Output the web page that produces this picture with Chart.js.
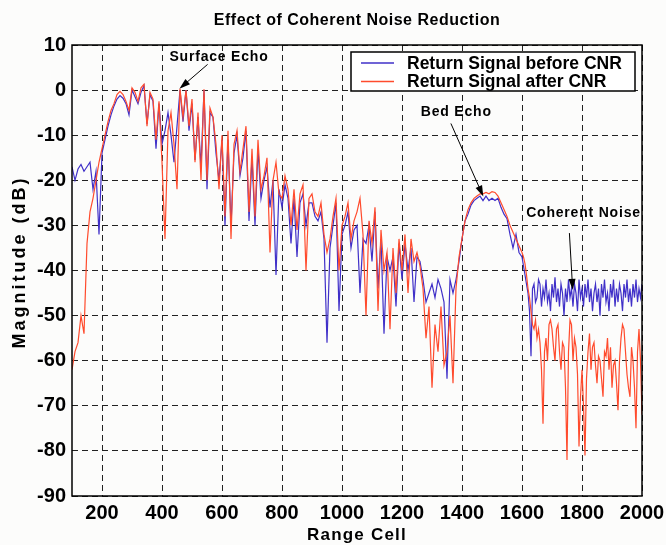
<!DOCTYPE html>
<html>
<head>
<meta charset="utf-8">
<script src="https://cdn.jsdelivr.net/npm/chart.js@4.4.1/dist/chart.umd.min.js"></script>
<style>
  html, body { margin: 0; padding: 0; background: #fcfcfb; }
  canvas { display: block; }
</style>
</head>
<body>
<canvas id="cnr-chart" width="666" height="545"></canvas>
<script>
// range cells: every 10 cells up to 1590, every 5 cells in the noisy tail
var rangeCells = [];
for (var c = 100; c < 1600; c += 10) rangeCells.push(c);
for (c = 1600; c <= 2000; c += 5) rangeCells.push(c);

// Magnitude (dB) before coherent noise reduction
var beforeCNR = [
  -17, -20, -17.5, -16.5, -18, -17, -16, -22, -18, -32,      // 100
  -14, -11, -8, -5.5, -3.5, -2, -1.2, -1.8, -3, -5.5,         // 200
  0, -1.5, -3, -0.5, 1, -7.5, -1, -2.5, -13, -3,              // 300
  -12, -9, -5, -10, -16, -8, 0, -7, 0, -9,                    // 400
  -3, -15.5, -6, -17, 0, -22, -5, -6, -14, -20,               // 500
  -11, -30, -11, -30, -14, -10, -19, -15, -9, -29,            // 600
  -15, -30, -13, -24, -20, -17, -26, -20, -41, -22,           // 700
  -26, -21, -24, -34, -24, -37, -25, -23, -30, -25,           // 800
  -25, -28, -29, -27, -33, -56, -35, -30, -25, -49,           // 900
  -32, -30, -27, -35, -31, -30, -45, -33, -34, -30,           // 1000
  -38, -27, -44, -33, -54, -37, -40, -37, -48, -34,           // 1100
  -42, -34, -40, -35, -47, -37, -38, -42, -47, -45,           // 1200
  -43, -46, -42, -44, -47, -64, -42, -45, -42, -38,           // 1300
  -33, -29, -27.5, -25.5, -24.5, -24, -23.5, -24.5, -23.5, -24.5, // 1400
  -24, -24.5, -24, -26, -27.5, -28.5, -32, -35, -32, -36,     // 1500
  -37, -39, -41, -43, -45, -49, -59, -44, -43, -47,           // 1600 (step 5)
  -46, -42, -43, -48, -44, -46, -42, -47, -45, -49,           // 1650
  -43, -46, -41.5, -47, -44, -48, -43, -45, -50, -44,         // 1700
  -47, -42, -46, -44, -48, -43, -45, -49, -42, -46,           // 1750
  -44, -48, -43, -46, -42, -47, -44, -49, -45, -43,           // 1800
  -47, -44, -50, -43, -46, -42, -47, -45, -49, -43,           // 1850
  -46, -42, -48, -44, -47, -43, -45, -49, -43, -46,           // 1900
  -42, -47, -44, -48, -43, -46, -42, -47, -44, -46,           // 1950
  -43                                                         // 2000
];

// Magnitude (dB) after coherent noise reduction
var afterCNR = [
  -62, -58, -56, -50, -54, -34, -27, -24, -20, -16,           // 100
  -13, -10, -7, -4.5, -3, -1, -0.3, -1, -2.5, -4.5,           // 200
  0.5, -0.5, -2.5, 0.5, 1.3, -8, -0.5, -2, -11, -2.5,         // 300
  -16, -33, -9, -5, -12, -22, 0.3, -6, 0, -8,                 // 400
  -2, -16, -5, -20, 0.2, -20, -4, -6, -12, -22,               // 500
  -10, -28, -9, -33, -12, -9, -18, -13, -8, -27,              // 600
  -13, -28, -11, -22, -19, -15, -36, -20, -16, -23,           // 700
  -24, -19, -22, -30, -22, -31, -23, -21, -40, -24,           // 800
  -23, -27, -28, -25, -32, -36, -33, -28, -24, -40,           // 900
  -30, -28, -25, -33, -29, -27, -24, -32, -50, -29,           // 1000
  -34, -26, -49, -31, -40, -36, -53, -35, -45, -33,           // 1100
  -40, -32, -45, -33, -38, -36, -39, -44, -55, -48,           // 1200
  -66, -52, -58, -48, -61, -58, -50, -65, -44, -37,           // 1300
  -33, -29, -26.5, -25, -24, -23.5, -23, -23, -22.7, -23,     // 1400
  -22.5, -22.7, -23.5, -25, -26.5, -28, -30, -31.5, -33, -34.5, // 1500
  -36, -37, -38.5, -41, -44, -46, -49, -52, -53, -51,         // 1600 (step 5)
  -55, -53, -56, -62, -74, -58, -55, -60, -52, -51,           // 1650
  -53, -57, -60, -53, -52, -58, -62, -56, -57, -66,           // 1700
  -82, -58, -51, -52, -60, -55, -57, -63, -79, -68,           // 1750
  -62, -70, -81, -64, -58, -54, -62, -57, -56, -61,           // 1800
  -65, -59, -60, -64, -68, -58, -59, -55, -62, -57,           // 1850
  -66, -61, -60, -65, -71, -60, -55, -52, -53, -58,           // 1900
  -63, -66, -68, -57, -60, -66, -75, -58, -53, -60,           // 1950
  -72                                                         // 2000
];

var xTicks = [200, 400, 600, 800, 1000, 1200, 1400, 1600, 1800, 2000];

// labels with arrows, in data coordinates (range cell, dB)
var notes = [
  { text: 'Surface Echo', at: [590, 7.4], from: [552, 5.7], to: [458, 0.3] },
  { text: 'Bed Echo', at: [1381, -4.9], from: [1363, -7.4], to: [1471, -23.6] },
  { text: 'Coherent Noise', at: [1805, -27.2], from: [1758, -31.7], to: [1769, -44.3] }
];

function pairs(ys) {
  return rangeCells.map(function(x, i) { return { x: x, y: ys[i] }; });
}

var FONT = '"Liberation Sans", Arial, sans-serif';
Chart.defaults.font.family = FONT;

function spacedText(ctx, text, x, y, font, spacing) {
  ctx.font = font;
  ctx.letterSpacing = spacing + 'px';
  ctx.fillText(text, x, y);
  ctx.letterSpacing = '0px';
}

var decorations = {
  id: 'decorations',
  afterDraw: function(chart) {
    var ctx = chart.ctx, a = chart.chartArea;
    var xs = chart.scales.x, ys = chart.scales.y;
    ctx.save();
    // axes box
    ctx.strokeStyle = '#000';
    ctx.lineWidth = 1.5;
    ctx.strokeRect(a.left, a.top, a.right - a.left, a.bottom - a.top);

    // annotations
    ctx.fillStyle = '#000';
    ctx.textAlign = 'center';
    ctx.textBaseline = 'middle';
    notes.forEach(function(n) {
      spacedText(ctx, n.text, xs.getPixelForValue(n.at[0]), ys.getPixelForValue(n.at[1]),
        'bold 14px ' + FONT, 0.8);
      var x1 = xs.getPixelForValue(n.from[0]), y1 = ys.getPixelForValue(n.from[1]);
      var x2 = xs.getPixelForValue(n.to[0]), y2 = ys.getPixelForValue(n.to[1]);
      var ang = Math.atan2(y2 - y1, x2 - x1), co = Math.cos(ang), si = Math.sin(ang);
      ctx.lineWidth = 1;
      ctx.beginPath();
      ctx.moveTo(x1, y1);
      ctx.lineTo(x2 - 6 * co, y2 - 6 * si);
      ctx.stroke();
      ctx.beginPath();
      ctx.moveTo(x2, y2);
      ctx.lineTo(x2 - 11 * co + 3.5 * si, y2 - 11 * si - 3.5 * co);
      ctx.lineTo(x2 - 11 * co - 3.5 * si, y2 - 11 * si + 3.5 * co);
      ctx.closePath();
      ctx.fill();
    });

    // legend box, top right inside the axes
    var lx = a.right - 291, ly = a.top + 7, lw = 284, lh = 39;
    ctx.fillStyle = '#fff';
    ctx.fillRect(lx, ly, lw, lh);
    ctx.strokeStyle = '#000';
    ctx.lineWidth = 1.5;
    ctx.strokeRect(lx, ly, lw, lh);
    ctx.textAlign = 'left';
    chart.data.datasets.forEach(function(ds, i) {
      var ry = ly + 11 + i * 18.5;
      ctx.strokeStyle = ds.borderColor;
      ctx.lineWidth = 1.3;
      ctx.beginPath();
      ctx.moveTo(lx + 10, ry);
      ctx.lineTo(lx + 43, ry);
      ctx.stroke();
      ctx.fillStyle = '#000';
      spacedText(ctx, ds.label, lx + 56, ry + 1, 'bold 17.5px ' + FONT, 0);
    });

    // titles
    ctx.fillStyle = '#000';
    ctx.textAlign = 'center';
    var cx = (a.left + a.right) / 2;
    spacedText(ctx, 'Effect of Coherent Noise Reduction', cx, 21, 'bold 16px ' + FONT, 0.5);
    spacedText(ctx, 'Range Cell', cx, 535, 'bold 17px ' + FONT, 1.2);
    ctx.translate(20, 262);
    ctx.rotate(-Math.PI / 2);
    spacedText(ctx, 'Magnitude (dB)', 0, 0, 'bold 18px ' + FONT, 3);
    ctx.restore();
  }
};

var ctx = document.getElementById('cnr-chart');
var cnrChart = new Chart(ctx, {
  type: 'line',
  data: {
    datasets: [{
      label: 'Return Signal before CNR',
      data: pairs(beforeCNR),
      borderColor: 'rgb(64, 48, 200)',
      borderWidth: 1.2,
      pointRadius: 0,
      tension: 0,
      order: 1
    }, {
      label: 'Return Signal after CNR',
      data: pairs(afterCNR),
      borderColor: 'rgb(255, 75, 45)',
      borderWidth: 1.2,
      pointRadius: 0,
      tension: 0,
      order: 0
    }]
  },
  options: {
    responsive: false,
    animation: false,
    layout: { padding: { left: 0, right: 24, top: 45, bottom: 0 } },
    plugins: {
      legend: { display: false },
      tooltip: { enabled: false }
    },
    scales: {
      x: {
        type: 'linear',
        min: 100,
        max: 2000,
        afterBuildTicks: function(scale) {
          scale.ticks = xTicks.map(function(v) { return { value: v }; });
        },
        afterFit: function(scale) {
          scale.height = 49;
          scale.paddingLeft = 0;
          scale.paddingRight = 0;
        },
        grid: { color: '#222', lineWidth: 1, drawTicks: false },
        border: { display: false, dash: [6, 4] },
        ticks: {
          color: '#000',
          padding: 5,
          maxRotation: 0,
          font: { size: 20, weight: 'bold' },
          callback: function(v) { return String(v); }
        }
      },
      y: {
        min: -90,
        max: 10,
        afterFit: function(scale) {
          scale.width = 72;
          scale.paddingTop = 0;
          scale.paddingBottom = 0;
        },
        grid: { color: '#222', lineWidth: 1, drawTicks: false },
        border: { display: false, dash: [6, 4] },
        ticks: {
          color: '#000',
          padding: 6,
          stepSize: 10,
          font: { size: 20, weight: 'bold' },
          callback: function(v) { return String(v); }
        }
      }
    }
  },
  plugins: [decorations]
});
</script>
</body>
</html>
